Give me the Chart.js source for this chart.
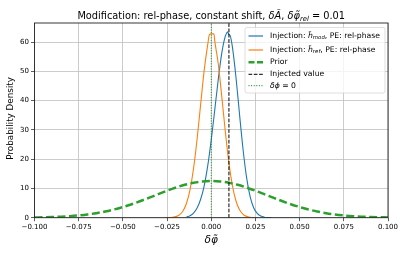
<!DOCTYPE html>
<html>
<head>
<meta charset="utf-8">
<script src="https://cdn.jsdelivr.net/npm/chart.js@4/dist/chart.umd.min.js"></script>
<style>
  body { margin: 0; background: #fff; }
  canvas { display: block; }
</style>
</head>
<body>
<canvas id="chart" width="407" height="255"></canvas>
<script>
// posterior: injection h_mod (blue)
const modX = [-0.014, -0.012, -0.010, -0.008, -0.006, -0.004, -0.002, 0.000, 0.002, 0.004, 0.006, 0.008, 0.009, 0.0092, 0.0100, 0.0107, 0.012, 0.014, 0.016, 0.018, 0.020, 0.022, 0.024, 0.026, 0.028, 0.030, 0.032, 0.034];
const modY = [0.3, 0.7, 1.6, 3.3, 6.3, 10.9, 17.7, 26.6, 36.9, 47.4, 56.4, 62.1, 63.3, 63.5, 62.6, 62.2, 58.2, 47.9, 35.3, 23.3, 13.7, 7.2, 3.4, 1.45, 0.55, 0.18, 0.06, 0.02];

// injection h_ref (orange)
const refX = [-0.026, -0.024, -0.022, -0.020, -0.018, -0.016, -0.014, -0.012, -0.010, -0.008, -0.006, -0.004, -0.002, -0.001, 0.000, 0.0015, 0.002, 0.004, 0.006, 0.008, 0.010, 0.012, 0.014, 0.016, 0.018, 0.020, 0.022, 0.024, 0.026];
const refY = [0.01, 0.04, 0.13, 0.37, 0.97, 2.3, 4.95, 9.6, 16.9, 26.9, 38.7, 50.3, 59.1, 62.6, 62.8, 62.8, 60.3, 52.4, 41.1, 29.2, 18.7, 10.9, 5.7, 2.7, 1.16, 0.45, 0.16, 0.05, 0.01];

// prior (green dashed)
const priorX = [-0.100, -0.095, -0.090, -0.085, -0.080, -0.075, -0.070, -0.065, -0.060, -0.055, -0.050, -0.045, -0.040, -0.035, -0.030, -0.025, -0.020, -0.015, -0.010, -0.005, 0.000, 0.005, 0.010, 0.015, 0.020, 0.025, 0.030, 0.035, 0.040, 0.045, 0.050, 0.055, 0.060, 0.065, 0.070, 0.075, 0.080, 0.085, 0.090, 0.095, 0.100];
const priorY = [0.09, 0.15, 0.23, 0.35, 0.53, 0.78, 1.11, 1.55, 2.12, 2.81, 3.65, 4.61, 5.69, 6.85, 8.04, 9.21, 10.30, 11.23, 11.94, 12.40, 12.55, 12.40, 11.94, 11.23, 10.30, 9.21, 8.04, 6.85, 5.69, 4.61, 3.65, 2.81, 2.12, 1.55, 1.11, 0.78, 0.53, 0.35, 0.23, 0.15, 0.09];

const injectedValue = 0.01;
const zeroValue = 0;

const xTicks = [-0.100, -0.075, -0.050, -0.025, 0.000, 0.025, 0.050, 0.075, 0.100];
const yTicks = [0, 10, 20, 30, 40, 50, 60];
const yMax = 66.5;

const FONT = "'DejaVu Sans', sans-serif";

function pts(xs, ys) {
    return xs.map((x, i) => ({ x: x, y: ys[i] }));
}

// draws text pieces: n = normal, i = italic, s = italic subscript
function drawRuns(ctx, runs, x, y, size, measureOnly) {
    let cx = x;
    runs.forEach(r => {
        const sz = r.s === 's' ? size * 0.7 : size;
        const style = r.s === 'n' ? '' : 'italic ';
        ctx.font = `${style}${sz}px ${FONT}`;
        const dy = r.s === 's' ? size * 0.25 : 0;
        if (!measureOnly) ctx.fillText(r.t, cx, y + dy);
        cx += ctx.measureText(r.t).width;
    });
    return cx - x;
}

const legendItems = [
    { color: '#1f77b4', width: 1.2, dash: [], runs: [{ t: 'Injection: ', s: 'n' }, { t: 'h\u0303', s: 'i' }, { t: 'mod', s: 's' }, { t: ', PE: rel-phase', s: 'n' }] },
    { color: '#ff7f0e', width: 1.2, dash: [], runs: [{ t: 'Injection: ', s: 'n' }, { t: 'h\u0303', s: 'i' }, { t: 'ref', s: 's' }, { t: ', PE: rel-phase', s: 'n' }] },
    { color: '#2ca02c', width: 2.5, dash: [6, 2.5], runs: [{ t: 'Prior', s: 'n' }] },
    { color: '#000000', width: 1, dash: [3.7, 1.6], runs: [{ t: 'Injected value', s: 'n' }] },
    { color: '#008000', width: 1, dash: [1, 1.6], runs: [{ t: '\u03b4\u03d5', s: 'i' }, { t: ' = 0', s: 'n' }] }
];
const legendRowsY = [36, 50, 62.3, 74.3, 85.7];

const decorPlugin = {
    id: 'decor',
    afterDatasetsDraw(chart) {
        const ctx = chart.ctx;
        const a = chart.chartArea;
        ctx.save();
        // frame
        ctx.strokeStyle = '#222';
        ctx.lineWidth = 0.9;
        ctx.strokeRect(a.left, a.top, a.right - a.left, a.bottom - a.top);

        // legend box
        const bx = 245, by = 27.5, bw = 140, bh = 65.5;
        ctx.fillStyle = 'rgba(255,255,255,0.8)';
        ctx.strokeStyle = '#d6d6d6';
        ctx.lineWidth = 0.8;
        ctx.beginPath();
        ctx.roundRect(bx, by, bw, bh, 2);
        ctx.fill();
        ctx.stroke();
        legendItems.forEach((it, i) => {
            const yy = legendRowsY[i];
            ctx.strokeStyle = it.color;
            ctx.lineWidth = it.width;
            ctx.setLineDash(it.dash);
            ctx.beginPath();
            ctx.moveTo(248.5, yy);
            ctx.lineTo(263, yy);
            ctx.stroke();
            ctx.setLineDash([]);
            ctx.fillStyle = '#000';
            ctx.textBaseline = 'middle';
            drawRuns(ctx, it.runs, 270, yy, 7.7);
        });

        // title
        const titleRuns = [
            { t: 'Modification: rel-phase, constant shift, ', s: 'n' },
            { t: '\u03b4A\u0303', s: 'i' }, { t: ', ', s: 'n' },
            { t: '\u03b4\u03c6\u0303', s: 'i' }, { t: 'rel', s: 's' },
            { t: ' = 0.01', s: 'n' }
        ];
        ctx.textBaseline = 'alphabetic';
        const tw = drawRuns(ctx, titleRuns, 0, 0, 9.8, true);
        drawRuns(ctx, titleRuns, (a.left + a.right) / 2 - tw / 2, 18.5, 9.8);

        // axis labels
        ctx.textAlign = 'center';
        ctx.textBaseline = 'middle';
        ctx.font = `italic 10.5px ${FONT}`;
        ctx.fillText('\u03b4\u03c6\u0303', (a.left + a.right) / 2, 240.5);
        ctx.translate(11, (a.top + a.bottom) / 2 - 2);
        ctx.rotate(-Math.PI / 2);
        ctx.font = `8.8px ${FONT}`;
        ctx.fillText('Probability Density', 0, 0);
        ctx.restore();
    }
};

new Chart(document.getElementById('chart'), {
    type: 'line',
    data: {
        datasets: [
            {
                label: 'Injection: h_mod, PE: rel-phase',
                data: pts(modX, modY),
                borderColor: '#1f77b4',
                borderWidth: 1.1,
                cubicInterpolationMode: 'monotone',
                order: 5
            },
            {
                label: 'Injection: h_ref, PE: rel-phase',
                data: pts(refX, refY),
                borderColor: '#ff7f0e',
                borderWidth: 1.1,
                cubicInterpolationMode: 'monotone',
                order: 4
            },
            {
                label: 'Prior',
                data: pts(priorX, priorY),
                borderColor: '#2ca02c',
                borderWidth: 2.5,
                borderDash: [8, 3.5],
                cubicInterpolationMode: 'monotone',
                order: 3
            },
            {
                label: 'Injected value',
                data: pts([injectedValue, injectedValue], [0, yMax]),
                borderColor: '#000',
                borderWidth: 1,
                borderDash: [3.7, 1.6],
                order: 2
            },
            {
                label: 'δφ = 0',
                data: pts([zeroValue, zeroValue], [0, yMax]),
                borderColor: '#008000',
                borderWidth: 0.9,
                borderDash: [1, 1.6],
                order: 1
            }
        ]
    },
    options: {
        responsive: false,
        animation: false,
        layout: { padding: { top: 23, right: 19, left: 0, bottom: 0 } },
        elements: { point: { radius: 0 } },
        plugins: {
            legend: { display: false },
            tooltip: { enabled: false }
        },
        scales: {
            x: {
                type: 'linear',
                min: xTicks[0],
                max: xTicks[xTicks.length - 1],
                afterFit: s => { s.height = 37.3; },
                afterBuildTicks: s => { s.ticks = xTicks.map(v => ({ value: v })); },
                ticks: {
                    autoSkip: false,
                    maxRotation: 0,
                    padding: 1.5,
                    color: '#000',
                    font: { family: FONT, size: 7 },
                    callback: v => v.toFixed(3).replace('-', '\u2212')
                },
                grid: { color: '#bfbfbf', lineWidth: 0.8, tickLength: 3.5, tickColor: '#333' },
                border: { display: false }
            },
            y: {
                min: 0,
                max: yMax,
                afterFit: s => { s.width = 34.5; },
                afterBuildTicks: s => { s.ticks = yTicks.map(v => ({ value: v })); },
                ticks: {
                    padding: 2,
                    color: '#000',
                    font: { family: FONT, size: 7 }
                },
                grid: { color: '#bfbfbf', lineWidth: 0.8, tickLength: 3.5, tickColor: '#333' },
                border: { display: false }
            }
        }
    },
    plugins: [decorPlugin]
});
</script>
</body>
</html>
